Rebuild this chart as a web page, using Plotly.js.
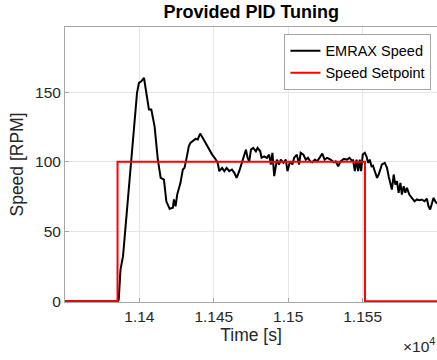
<!DOCTYPE html>
<html>
<head>
<meta charset="utf-8">
<script src="https://cdn.plot.ly/plotly-3.0.1.min.js"></script>
<style>html,body{margin:0;padding:0;background:#fff;}#chart{width:437px;height:360px;}</style>
</head>
<body>
<div id="chart"></div>
<script>
// Time in seconds
const speedTime = [11350, 11385.5, 11386.1, 11387.3, 11389, 11391.3, 11393.5, 11395.7, 11398.4, 11399.7, 11401.3, 11403.1, 11404.7, 11406.4, 11408, 11410.2, 11412.4, 11414.3, 11416.5, 11418.1, 11420.3, 11422.5, 11423.2, 11424.3, 11425.4, 11427.6, 11429.2, 11430.3, 11431.5, 11433.2, 11434.3, 11435.9, 11437.7, 11439.2, 11440.8, 11442.6, 11444.4, 11446.6, 11448.9, 11451.1, 11452.6, 11453.7, 11455.6, 11457.1, 11458.6, 11460.4, 11462.2, 11463.8, 11465.3, 11467.1, 11468.9, 11470.5, 11471.6, 11472.7, 11473.8, 11475, 11476.5, 11478.3, 11479.4, 11481.2, 11482.1, 11483.9, 11485.7, 11487.2, 11488.3, 11489.4, 11490.6, 11492.4, 11493.9, 11495, 11496.8, 11498.4, 11499.5, 11501.3, 11502.8, 11504, 11505.8, 11507.3, 11508.4, 11510.2, 11511.8, 11513.3, 11514.7, 11516.2, 11518, 11519.5, 11521.4, 11522.9, 11524.5, 11526.2, 11528.5, 11530.7, 11531.9, 11533.6, 11535.2, 11537.4, 11539.6, 11541.2, 11542.6, 11543.6, 11544.8, 11545.9, 11547, 11548.1, 11549, 11550.1, 11551.5, 11552.6, 11553.7, 11554.8, 11556, 11557, 11558.2, 11559.7, 11560.8, 11562, 11563, 11564.9, 11566.4, 11567.5, 11568.7, 11569.7, 11570.9, 11572, 11573.1, 11574.2, 11575.4, 11576.4, 11577.6, 11578.7, 11579.8, 11581.4, 11583.1, 11584.9, 11586.5, 11588.1, 11589.8, 11591.6, 11593.2, 11594.3, 11595.4, 11596.5, 11597.7, 11598.8, 11600];
const speedRPM = [0, 0, 1, 22.7, 32.3, 61, 94.5, 118.4, 149.5, 156.7, 157.8, 160.2, 149.5, 137.5, 137.5, 125.5, 101.6, 88.5, 87.3, 71.7, 66.3, 67, 73, 68.1, 76.5, 84.9, 94.5, 95.7, 101.6, 111.2, 113.6, 114.8, 116.5, 116, 120.3, 117.2, 113.6, 108.8, 105.2, 102.1, 99.3, 93.3, 95.7, 93.3, 95.7, 93.3, 94.5, 92.1, 88.5, 93.3, 99.3, 104, 108.8, 102.9, 100.4, 108.8, 110, 107.6, 110, 107.6, 102.9, 104, 102.9, 105.2, 98.1, 106.5, 89.7, 101.6, 98.1, 101.6, 99.3, 101.6, 93.3, 100.4, 98.1, 102.9, 105.2, 98.1, 106.5, 105.2, 101.6, 102.9, 100.4, 99.7, 101.6, 100.4, 104, 105.9, 101.6, 102.9, 101.6, 99.7, 100.4, 96.8, 100.4, 102.1, 101.6, 102.9, 101.1, 101.1, 93.3, 101.6, 93.3, 101.6, 93.3, 105.2, 106.5, 104, 99.3, 101.6, 96.8, 97.3, 93.3, 88.5, 90.9, 95.7, 98.1, 99.3, 95.7, 89.7, 84.9, 80.1, 90.9, 83.7, 86.1, 77.8, 84.9, 76.5, 82.5, 77.8, 81.3, 76.5, 74.2, 71.7, 73, 72.5, 73, 71.7, 73.5, 68.1, 65.8, 70.6, 74.2, 71.7, 70];

const setpointTime = [11350, 11385.3, 11385.3, 11551.6, 11551.6, 11600];
const setpointRPM = [0, 0, 100, 100, 0, 0];

const xTickVals = [11400, 11450, 11500, 11550];
const xTickText = ['1.14', '1.145', '1.15', '1.155'];
const yTickVals = [0, 50, 100, 150];

const font = 'Liberation Sans, Arial, sans-serif';

const traces = [
  {x: speedTime, y: speedRPM, type: 'scatter', mode: 'lines', name: 'EMRAX Speed',
   line: {color: '#000000', width: 2}},
  {x: setpointTime, y: setpointRPM, type: 'scatter', mode: 'lines', name: 'Speed Setpoint',
   line: {color: '#ff0000', width: 2}}
];

const layout = {
  width: 437, height: 360,
  margin: {l: 65, r: 0, t: 27, b: 58},
  paper_bgcolor: '#ffffff', plot_bgcolor: '#ffffff',
  font: {family: font, color: '#262626', size: 15},
  title: {text: '<b>Provided PID Tuning</b>', font: {family: font, size: 18, color: '#000000'},
          x: 0.575, xanchor: 'center', y: 0.967, yanchor: 'middle'},
  xaxis: {
    range: [11350, 11600], tickvals: xTickVals, ticktext: xTickText,
    showgrid: true, gridcolor: '#e6e6e6', gridwidth: 1,
    showline: true, linecolor: '#a6a6a6', linewidth: 1, mirror: true,
    ticks: 'inside', ticklen: 4, tickcolor: '#a6a6a6',
    zeroline: false, tickfont: {size: 15.5, color: '#262626'},
    title: {text: 'Time [s]', font: {size: 17.5, color: '#262626'}, standoff: 4}
  },
  yaxis: {
    range: [-0.6, 196.8], tickvals: yTickVals,
    showgrid: true, gridcolor: '#e6e6e6', gridwidth: 1,
    showline: true, linecolor: '#a6a6a6', linewidth: 1, mirror: true,
    ticks: 'inside', ticklen: 4, tickcolor: '#a6a6a6',
    zeroline: false, tickfont: {size: 15.5, color: '#262626'},
    title: {text: 'Speed [RPM]', font: {size: 17.5, color: '#262626'}, standoff: 6}
  },
  legend: {
    x: 0.985, xanchor: 'right', y: 0.975, yanchor: 'top',
    bgcolor: '#ffffff', bordercolor: '#a6a6a6', borderwidth: 1,
    font: {family: font, size: 14.5, color: '#000000'},
    tracegroupgap: 0, itemwidth: 30
  },
  showlegend: true,
  annotations: [{
    xref: 'paper', yref: 'paper', x: 1.0, y: -0.155, xanchor: 'right', yanchor: 'middle',
    text: '×10<sup>4</sup>', showarrow: false, font: {family: font, size: 15.5, color: '#262626'}
  }]
};

Plotly.newPlot('chart', traces, layout, {displayModeBar: false, staticPlot: true});
</script>
</body>
</html>
